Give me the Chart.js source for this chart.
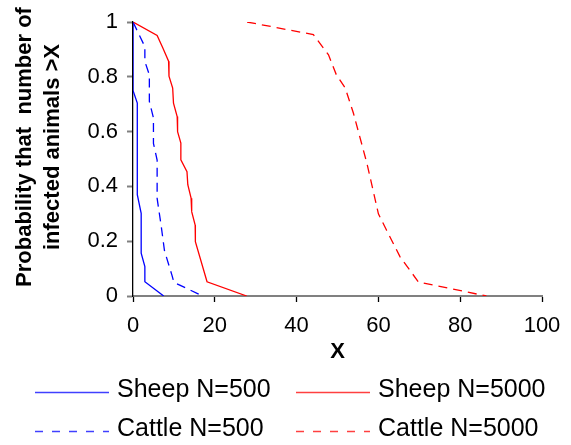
<!DOCTYPE html>
<html>
<head>
<meta charset="utf-8">
<script src="https://cdn.jsdelivr.net/npm/chart.js@4"></script>
<style>
  body { margin: 0; background: #fff; }
  canvas { display: block; }
</style>
</head>
<body>
<canvas id="myChart" width="571" height="445"></canvas>
<script>
// data
const sheep500X = [0, 0, 1.05, 1.05, 2.0, 2.0, 2.9, 2.9, 7.5];
const sheep500Y = [1, 0.75, 0.704, 0.37, 0.302, 0.156, 0.107, 0.052, 0];

const cattle500X = [0, 2.9, 2.9, 4.0, 4.0, 5.0, 5.0, 5.9, 5.9, 6.9, 7.7, 9.5, 10.0, 17];
const cattle500Y = [1, 0.91, 0.856, 0.807, 0.71, 0.65, 0.557, 0.496, 0.356, 0.255, 0.165, 0.077, 0.05, 0];

const sheep5000X = [0, 5.9, 7.3, 8.7, 8.8, 9.7, 9.9, 10.8, 10.9, 11.7, 11.7, 13.2, 13.4, 14.2, 14.35, 15.2, 15.25, 18.1, 27.8];
const sheep5000Y = [1, 0.951, 0.905, 0.857, 0.802, 0.759, 0.704, 0.655, 0.60, 0.558, 0.497, 0.454, 0.406, 0.357, 0.308, 0.259, 0.198, 0.052, 0];

const cattle5000X = [27.9, 44.1, 45.3, 47.8, 49.7, 51.9, 53.9, 57.2, 60.0, 62.0, 65.3, 69.8, 86.4];
const cattle5000Y = [1, 0.954, 0.93, 0.88, 0.808, 0.759, 0.667, 0.484, 0.30, 0.24, 0.143, 0.051, 0];

const seriesNames = ['Sheep N=500', 'Sheep N=5000', 'Cattle N=500', 'Cattle N=5000'];
const xTicks = [0, 20, 40, 60, 80, 100];
const yTicks = [0, 0.2, 0.4, 0.6, 0.8, 1];
const yTitleLines = ['Probability that  number of', 'infected animals >X'];
const xTitle = 'X';

const FONT = '"Liberation Sans", Arial, sans-serif';

function pts(xs, ys){
  return xs.map((x, i) => ({x: x, y: ys[i]}));
}

// legend laid out in 2 columns, 2 rows below the axis title
const legendBox = {
  id: 'legendBox',
  afterDraw(chart){
    const c = chart.ctx;
    const colX = [35, 296];
    const rowY = [392.5, 431.5];
    chart.data.datasets.forEach((ds, i) => {
      const x = colX[i % 2], y = rowY[Math.floor(i / 2)];
      c.save();
      c.strokeStyle = ds.borderColor;
      c.globalAlpha = 0.75;
      c.lineWidth = 1.3;
      c.setLineDash(ds.borderDash.length ? [8, 9] : []);
      c.beginPath();
      c.moveTo(x, y);
      c.lineTo(x + 74, y);
      c.stroke();
      c.restore();
      c.save();
      c.fillStyle = '#000';
      c.font = '25px ' + FONT;
      c.textBaseline = 'middle';
      c.fillText(ds.label, x + 82, y - 2);
      c.restore();
    });
  }
};

// two line rotated y title
const yTitle = {
  id: 'yTitle',
  afterDraw(chart){
    const c = chart.ctx;
    c.save();
    c.translate(0, 147);
    c.rotate(-Math.PI / 2);
    c.font = 'bold 22px ' + FONT;
    c.fillStyle = '#000';
    c.textAlign = 'center';
    c.textBaseline = 'middle';
    c.fillText(yTitleLines[0], 0, 24.5);
    c.fillText(yTitleLines[1], 0, 52.5);
    c.restore();
  }
};

function noPad(scale){
  scale.paddingTop = 0; scale.paddingBottom = 0;
  scale.paddingLeft = 0; scale.paddingRight = 0;
}

const ctx = document.getElementById('myChart');

new Chart(ctx, {
  type: 'line',
  data: {
    datasets: [
      {label: seriesNames[0], data: pts(sheep500X, sheep500Y), borderColor: '#0000ff', borderDash: []},
      {label: seriesNames[1], data: pts(sheep5000X, sheep5000Y), borderColor: '#ff0000', borderDash: []},
      {label: seriesNames[2], data: pts(cattle500X, cattle500Y), borderColor: '#0000ff', borderDash: [9, 6]},
      {label: seriesNames[3], data: pts(cattle5000X, cattle5000Y), borderColor: '#ff0000', borderDash: [9, 6]}
    ]
  },
  options: {
    responsive: false,
    animation: false,
    layout: { padding: {left: 0, top: 22, right: 29, bottom: 80} },
    elements: {
      point: { radius: 0 },
      line: { borderWidth: 1.3, tension: 0, fill: false }
    },
    plugins: {
      legend: { display: false },
      tooltip: { enabled: false }
    },
    scales: {
      x: {
        type: 'linear',
        min: 0,
        max: 100,
        afterBuildTicks: s => { s.ticks = xTicks.map(v => ({value: v})); },
        afterFit: s => { s.height = 69; noPad(s); },
        ticks: {
          color: '#000',
          font: {family: FONT, size: 22},
          padding: 11,
          maxRotation: 0,
          callback: v => String(v)
        },
        grid: {
          drawOnChartArea: false,
          drawTicks: true,
          tickLength: 6,
          tickColor: '#000',
          tickWidth: 1.3
        },
        border: { color: '#808080', width: 2 },
        title: {
          display: true,
          text: xTitle,
          color: '#000',
          font: {family: FONT, size: 22, weight: 'bold'},
          padding: {top: 0, bottom: 0}
        }
      },
      y: {
        min: 0,
        max: 1,
        afterBuildTicks: s => { s.ticks = yTicks.map(v => ({value: v})); },
        afterFit: s => { s.width = 133; noPad(s); },
        ticks: {
          color: '#000',
          font: {family: FONT, size: 22},
          padding: 9,
          callback: v => String(v)
        },
        grid: {
          drawOnChartArea: false,
          drawTicks: true,
          tickLength: 6,
          tickColor: '#808080',
          tickWidth: 2
        },
        border: { color: '#000', width: 1.3 }
      }
    }
  },
  plugins: [legendBox, yTitle]
});
</script>
</body>
</html>
